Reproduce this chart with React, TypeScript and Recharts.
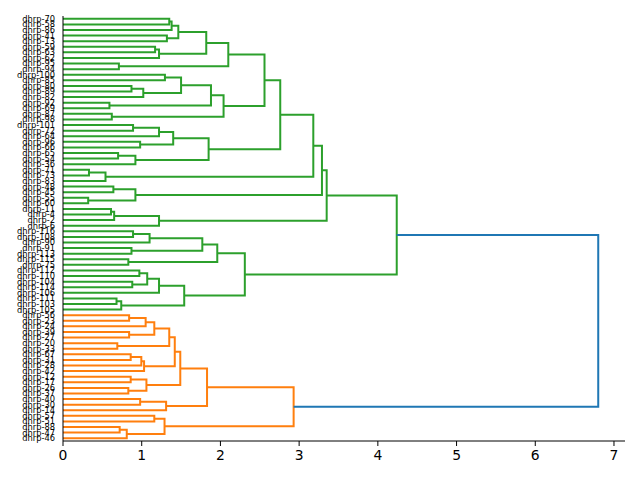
import React from "react";
import { LineChart, Line, XAxis, YAxis } from "recharts";

// leaf labels, top to bottom
const LEAVES = [
  "dhrp-70", "dhrp-58", "dhrp-86", "dhrp-41", "dhrp-13", "dhrp-59", "dhrp-63", "dhrp-62",
  "dhrp-95", "dhrp-94", "dhrp-100", "dhrp-85", "dhrp-80", "dhrp-89", "dhrp-82", "dhrp-92",
  "dhrp-69", "dhrp-87", "dhrp-98", "dhrp-101", "dhrp-72", "dhrp-64", "dhrp-96", "dhrp-66",
  "dhrp-65", "dhrp-54", "dhrp-36", "dhrp-71", "dhrp-73", "dhrp-83", "dhrp-48", "dhrp-45",
  "dhrp-55", "dhrp-60", "dhrp-11", "dhrp-4", "dhrp-2", "dhrp-6", "dhrp-116", "dhrp-108",
  "dhrp-90", "dhrp-91", "dhrp-113", "dhrp-115", "dhrp-75", "dhrp-112", "dhrp-110", "dhrp-104",
  "dhrp-114", "dhrp-106", "dhrp-111", "dhrp-103", "dhrp-105",
  "dhrp-56", "dhrp-23", "dhrp-24", "dhrp-39", "dhrp-27", "dhrp-20", "dhrp-33", "dhrp-67",
  "dhrp-31", "dhrp-28", "dhrp-42", "dhrp-12", "dhrp-17", "dhrp-26", "dhrp-37", "dhrp-40",
  "dhrp-30", "dhrp-14", "dhrp-57", "dhrp-51", "dhrp-88", "dhrp-47", "dhrp-46",
];

// linkage: [child a, child b, distance]; ids >= LEAVES.length refer to earlier merges
const MERGES: [number, number, number][] = [
  [0, 1, 1.35], [76, 2, 1.38], [3, 4, 1.32], [77, 78, 1.465], [5, 6, 1.17],
  [80, 7, 1.22], [79, 81, 1.82], [8, 9, 0.71], [82, 83, 2.1], [10, 11, 1.295],
  [12, 13, 0.87], [86, 14, 1.02], [85, 87, 1.5], [15, 16, 0.59], [88, 89, 1.88],
  [17, 18, 0.62], [90, 91, 2.04], [84, 92, 2.56], [19, 20, 0.89], [94, 21, 1.22],
  [22, 23, 0.98], [95, 96, 1.4], [24, 25, 0.7], [98, 26, 0.92], [97, 99, 1.85],
  [93, 100, 2.76], [27, 28, 0.33], [102, 29, 0.54], [101, 103, 3.18], [30, 31, 0.64],
  [32, 33, 0.32], [105, 106, 0.92], [104, 107, 3.29], [34, 35, 0.61], [109, 36, 0.65],
  [110, 37, 1.22], [108, 111, 3.35],
  [38, 39, 0.89], [113, 40, 1.1], [41, 42, 0.87], [114, 115, 1.77], [43, 44, 0.83],
  [116, 117, 1.96], [45, 46, 0.97], [47, 48, 0.88], [119, 120, 1.07], [121, 49, 1.22],
  [50, 51, 0.68], [123, 52, 0.74], [122, 124, 1.54], [118, 125, 2.31], [112, 126, 4.24],
  [53, 54, 0.84], [128, 55, 1.05], [56, 57, 0.84], [129, 130, 1.16], [58, 59, 0.69],
  [131, 132, 1.35], [60, 61, 0.86], [134, 62, 0.995], [135, 63, 1.03], [133, 136, 1.42],
  [64, 65, 0.86], [66, 67, 0.83], [138, 139, 1.06], [137, 140, 1.49], [68, 69, 0.98],
  [142, 70, 1.31], [141, 143, 1.83], [71, 72, 1.16], [73, 74, 0.72], [146, 75, 0.81],
  [145, 147, 1.29], [144, 148, 2.93],
  [127, 149, 6.8],
];

// flat clusters below the colour threshold, in leaf order
const CLUSTER_SIZES = [53, 23];
const CLUSTER_COLORS = ["#2ca02c", "#ff7f0e"];
const ABOVE_COLOR = "#1f77b4";

const n = LEAVES.length;
const maxDist = Math.max(...MERGES.map((m) => m[2]));
const threshold = 0.7 * maxDist;

const leafCluster: number[] = [];
CLUSTER_SIZES.forEach((size, c) => {
  for (let i = 0; i < size; i++) leafCluster.push(c);
});

type Node = { y: number; h: number; first: number };
const nodes: Node[] = LEAVES.map((_, i) => ({ y: 5 + 10 * i, h: 0, first: i }));

const links = MERGES.map(([a, b, h]) => {
  const na = nodes[a];
  const nb = nodes[b];
  nodes.push({ y: (na.y + nb.y) / 2, h, first: na.first });
  const color = h > threshold ? ABOVE_COLOR : CLUSTER_COLORS[leafCluster[na.first]];
  return {
    color,
    points: [
      { x: na.h, y: na.y },
      { x: h, y: na.y },
      { x: h, y: nb.y },
      { x: nb.h, y: nb.y },
    ],
  };
});

const xMax = maxDist * 1.05;
const yMax = n * 10;
const leafTicks = LEAVES.map((_, i) => 5 + 10 * i);
const xTicks = [0, 1, 2, 3, 4, 5, 6, 7];

const font = "DejaVu Sans, sans-serif";

export default function App() {
  return (
    <div style={{ width: 640, height: 480 }}>
      <style>{"body{margin:0}"}</style>
      <LineChart width={640} height={480} margin={{ top: 16, right: 15, bottom: 0, left: 0 }}>
        <XAxis
          xAxisId="b"
          type="number"
          dataKey="x"
          domain={[0, xMax]}
          ticks={xTicks}
          allowDataOverflow
          height={39}
          tickSize={5}
          tickMargin={4}
          stroke="#000"
          tick={{ fill: "#000", fontSize: 13.9, fontFamily: font }}
        />
        <XAxis
          xAxisId="t"
          orientation="top"
          type="number"
          dataKey="x"
          domain={[0, xMax]}
          height={0}
          tick={false}
          tickLine={false}
          stroke="#000"
        />
        <YAxis
          yAxisId="l"
          type="number"
          dataKey="y"
          domain={[0, yMax]}
          reversed
          ticks={leafTicks}
          interval={0}
          width={63}
          tickLine={false}
          tickSize={4}
          tickMargin={4}
          stroke="#000"
          tickFormatter={(v: number) => LEAVES[Math.round((v - 5) / 10)]}
          tick={{ fill: "#000", fontSize: 8.3, fontFamily: font }}
        />
        <YAxis
          yAxisId="r"
          orientation="right"
          type="number"
          domain={[0, yMax]}
          width={0}
          tick={false}
          tickLine={false}
          stroke="#000"
        />
        {links.map((l, i) => (
          <Line
            key={i}
            xAxisId="b"
            yAxisId="l"
            data={l.points}
            dataKey="y"
            stroke={l.color}
            strokeWidth={2}
            dot={false}
            isAnimationActive={false}
          />
        ))}
      </LineChart>
    </div>
  );
}
